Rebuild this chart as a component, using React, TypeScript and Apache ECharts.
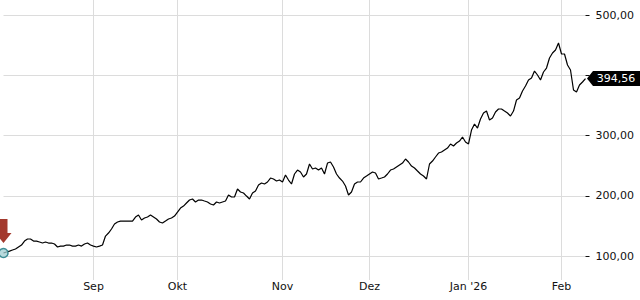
import React, { useEffect, useRef } from "react";
import * as echarts from "echarts";

// Price samples (EUR) at ~3px steps
const prices: number[] = [
  104.9, 106.6, 108.2, 109.9, 111.6, 114.9, 118.2, 124.8, 128.2, 128.2,
  124.8, 124.8, 123.2, 121.5, 123.2, 121.5, 121.5, 119.9, 114.9, 116.5,
  116.5, 118.2, 118.2, 116.5, 116.5, 118.2, 116.5, 119.9, 121.5, 118.2,
  116.5, 114.9, 116.5, 118.2, 133.1, 138.1, 144.8, 153.1, 156.4, 158,
  158, 158, 158, 158, 164.7, 168, 159.7, 163, 164.7, 168,
  164.7, 161.4, 156.4, 154.7, 158, 161.4, 163, 166.3, 173, 179.6,
  182.9, 187.9, 192.9, 194.6, 189.6, 192.9, 192.9, 191.2, 189.6, 186.3,
  184.6, 189.6, 187.9, 189.6, 191.2, 201.2, 197.9, 197.9, 211.2, 206.2,
  204.5, 199.5, 194.6, 204.5, 207.8, 217.8, 221.1, 219.5, 222.8, 229.4,
  227.8, 224.4, 226.1, 222.8, 234.4, 226.1, 219.5, 236.1, 242.7, 239.4,
  231.1, 236.1, 252.7, 244.4, 246, 242.7, 246, 236.1, 254.3, 256,
  247.7, 236.1, 229.4, 224.4, 216.1, 201.2, 206.2, 219.5, 222.8, 222.8,
  229.4, 232.7, 236.1, 239.4, 237.7, 227.8, 229.4, 231.1, 236.1, 242.7,
  244.4, 247.7, 251, 254.3, 261, 256, 249.3, 246, 241, 236.1,
  232.7, 227.8, 252.7, 257.6, 264.3, 270.9, 272.6, 275.9, 279.2, 285.9,
  282.5, 287.5, 290.8, 297.5, 289.2, 285.9, 309.1, 319.1, 312.4, 327.4,
  337.3, 340.6, 325.7, 329, 339, 344, 344, 340.6, 337.3, 332.3,
  340.6, 358.9, 362.2, 373.8, 382.1, 392.1, 395.4, 407, 400.4, 392.1,
  405.4, 412, 428.6, 436.9, 441.9, 453.5, 435.3, 435.3, 417, 408.7,
  375.5, 372.2, 383.8, 388.8, 394.56,
];

// sample ids (one per price)
const samples: string[] = prices.map((_, i) => String(i));

// month tick positions (sample index) and labels
const monthStartIdx: number[] = [30, 58, 93, 122, 155, 186];
const monthLabels: string[] = ["Sep", "Okt", "Nov", "Dez", "Jan '26", "Feb"];

const FONT = "DejaVu Sans";
const GRID_COLOR = "#dcdcdc";

const fmt = (v: number) => v.toFixed(2).replace(".", ",");

export default function App() {
  const ref = useRef<HTMLDivElement>(null);

  useEffect(() => {
    document.body.style.margin = "0";
    if (!ref.current) return;
    const chart = echarts.init(ref.current, undefined, { renderer: "svg" });
    const isMonth = (idx: number) => monthStartIdx.indexOf(idx) >= 0;
    const last = prices.length - 1;
    const lastPrice = prices[last];

    chart.setOption({
      animation: false,
      textStyle: { fontFamily: FONT },
      grid: [
        { left: 3.5, right: 54.5, top: 15, bottom: 44 },
        { left: 3.5, right: 54.5, top: 0, bottom: 20 },
      ],
      xAxis: [
        {
          gridIndex: 0,
          type: "category",
          data: samples,
          boundaryGap: false,
          show: false,
        },
        {
          gridIndex: 1,
          type: "category",
          data: samples,
          boundaryGap: false,
          axisLine: { show: false },
          axisTick: { show: false },
          splitLine: {
            show: true,
            interval: (idx: number) => isMonth(idx),
            lineStyle: { color: GRID_COLOR, width: 1 },
          },
          axisLabel: {
            interval: (idx: number) => isMonth(idx),
            formatter: (_v: string, idx: number) => {
              const k = monthStartIdx.indexOf(idx);
              return k >= 0 ? monthLabels[k] : "";
            },
            margin: 1,
            fontSize: 11,
            color: "#111",
            fontFamily: FONT,
          },
        },
        {
          gridIndex: 1,
          type: "category",
          data: samples,
          boundaryGap: false,
          offset: 14,
          axisLine: { show: false },
          splitLine: { show: false },
          axisLabel: { show: false },
          axisTick: {
            show: true,
            length: 4,
            interval: (idx: number) => isMonth(idx),
            lineStyle: { color: "#111", width: 1 },
          },
        },
      ],
      yAxis: [
        {
          gridIndex: 0,
          type: "value",
          position: "right",
          min: 100,
          max: 500,
          interval: 100,
          axisLine: { show: false },
          axisTick: { show: true, length: 4, lineStyle: { color: "#111" } },
          splitLine: { show: true, lineStyle: { color: GRID_COLOR, width: 1 } },
          axisLabel: {
            margin: 10,
            fontSize: 11,
            color: "#111",
            fontFamily: FONT,
            // the label under the current-price tag is hidden by the tag
            formatter: (v: number) => (Math.abs(v - lastPrice) < 15 ? "" : fmt(v)),
          },
        },
        { gridIndex: 1, type: "value", show: false },
      ],
      series: [
        {
          type: "line",
          xAxisIndex: 0,
          yAxisIndex: 0,
          data: prices,
          showSymbol: false,
          symbol: "none",
          lineStyle: { color: "#000", width: 1.2 },
          markPoint: {
            silent: true,
            data: [
              {
                coord: [samples[0], prices[0]],
                symbol: "circle",
                symbolSize: 9,
                itemStyle: {
                  color: "rgba(160,205,210,0.75)",
                  borderColor: "#3f8e96",
                  borderWidth: 1.5,
                },
                label: { show: false },
              },
              {
                coord: [samples[0], prices[0]],
                symbol: "path://M4,0L12,0L12,14L16,14L8,24L0,14L4,14Z",
                symbolSize: [16, 24],
                symbolOffset: [0, -22],
                itemStyle: { color: "#a3392d" },
                label: { show: false },
              },
              {
                coord: [samples[last], lastPrice],
                symbol: "path://M0,7.5L6,0L53,0L53,15L6,15Z",
                symbolSize: [53, 15],
                symbolOffset: [28, 0],
                itemStyle: { color: "#000" },
                label: {
                  show: true,
                  position: "inside",
                  offset: [2.5, 0],
                  formatter: () => fmt(lastPrice),
                  color: "#fff",
                  fontSize: 11,
                  fontFamily: FONT,
                },
              },
            ],
          },
        },
      ],
    });

    return () => chart.dispose();
  }, []);

  return <div ref={ref} style={{ width: 640, height: 300 }} />;
}
